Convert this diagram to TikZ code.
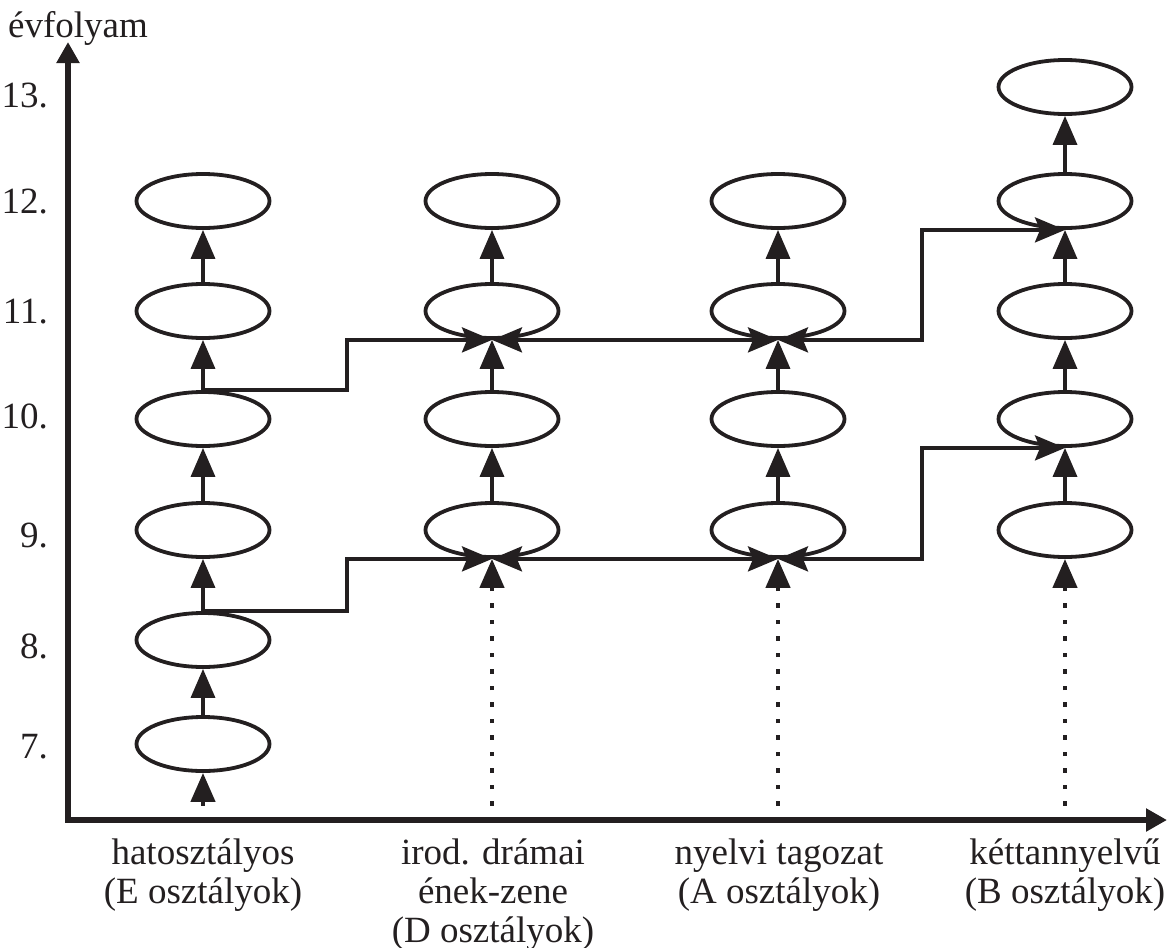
\documentclass[tikz,border=0pt]{standalone}
\usepackage{fontspec}
\setmainfont{Liberation Serif}
\usetikzlibrary{arrows.meta,shapes.geometric,calc}
\definecolor{ink}{RGB}{35,31,32}
\begin{document}
\begin{tikzpicture}[x=1pt,y=-1pt,
  cls/.style={ellipse,draw=ink,line width=3.8pt,minimum width=133pt,minimum height=54pt,inner sep=0pt},
  up/.style={draw=ink,line width=3.5pt,-{Triangle[length=29pt,width=24pt]}},
  dotup/.style={draw=ink,line width=4.5pt,dash pattern=on 4.5pt off 12pt,-{Triangle[length=29pt,width=24pt]}},
  conn/.style={draw=ink,line width=3.5pt,line join=miter,-{Stealth[length=30pt,width=25pt,inset=5pt]}},
  bconn/.style={draw=ink,line width=3.5pt,line join=miter,{Stealth[length=30pt,width=25pt,inset=5pt]}-{Stealth[length=30pt,width=25pt,inset=5pt]}},
  axis/.style={draw=ink,line width=6pt,line join=miter,{Triangle[length=21pt,width=22pt]}-{Triangle[length=21pt,width=22pt]}},
  lbl/.style={text=ink,font=\fontsize{37}{39}\selectfont,inner sep=0pt},
  num/.style={lbl,anchor=base east},
  cat/.style={lbl,anchor=base,align=center}]
\useasboundingbox (0,0) rectangle (1173,948);
% axes
\coordinate (O) at (68,820);
\coordinate (ytip) at (68,42);
\coordinate (xtip) at (1167,820);
\draw[axis] (ytip) -- (O) -- (xtip);
\node[lbl,anchor=base west] (evf) at (8,37) {évfolyam};
% year labels
\node[num] (n13) at (48,107) {13.};
\node[num] (n12) at (48,213) {12.};
\node[num] (n11) at (48,323) {11.};
\node[num] (n10) at (48,428) {10.};
\node[num] (n9) at (48,547) {9.};
\node[num] (n8) at (48,658) {8.};
\node[num] (n7) at (48,758) {7.};
% ellipses
\foreach \c/\x in {1/203,2/492,3/778,4/1065}{
  \foreach \r/\y in {9/530,10/419,11/311,12/201}{
    \node[cls] (c\c r\r) at (\x,\y) {};
  }
}
\node[cls] (c1r7) at (203,744) {};
\node[cls] (c1r8) at (203,640) {};
\node[cls] (c4r13) at (1065,87) {};
% base points on the x axis
\coordinate (b1) at (203,822);
\coordinate (b2) at (492,822);
\coordinate (b3) at (778,822);
\coordinate (b4) at (1065,822);
% dotted entries
\draw[dotup] (b1) -- (c1r7.south);
\draw[dotup] (b2) -- (c2r9.south);
\draw[dotup] (b3) -- (c3r9.south);
\draw[dotup] (b4) -- (c4r9.south);
% vertical arrows
\draw[up] (c1r7.north) -- (c1r8.south);
\draw[up] (c1r8.north) -- (c1r9.south);
\foreach \c in {1,2,3,4}{
  \draw[up] (c\c r9.north) -- (c\c r10.south);
  \draw[up] (c\c r10.north) -- (c\c r11.south);
  \draw[up] (c\c r11.north) -- (c\c r12.south);
}
\draw[up] (c4r12.north) -- (c4r13.south);
% step connectors
\coordinate (k1) at (347,0);
\coordinate (k2) at (922,0);
\draw[conn] (c1r10.north) -| (k1 |- c2r11.south) -- (c2r11.south);
\draw[conn] (c1r8.north) -| (k1 |- c2r9.south) -- (c2r9.south);
\draw[bconn] (c2r11.south) -- (c3r11.south);
\draw[bconn] (c2r9.south) -- (c3r9.south);
\draw[bconn] (c3r11.south) -| (k2 |- c4r12.south) -- (c4r12.south);
\draw[bconn] (c3r9.south) -| (k2 |- c4r10.south) -- (c4r10.south);
% category labels (base anchor = baseline of last line)
\node[cat] (t1) at (203,903) {hatosztályos\\(E osztályok)};
\node[cat] (t2) at (493,942) {irod. drámai\\ének-zene\\(D osztályok)};
\node[cat] (t3) at (779,903) {nyelvi tagozat\\(A osztályok)};
\node[cat] (t4) at (1065,903) {kéttannyelvű\\(B osztályok)};
\end{tikzpicture}
\end{document}
